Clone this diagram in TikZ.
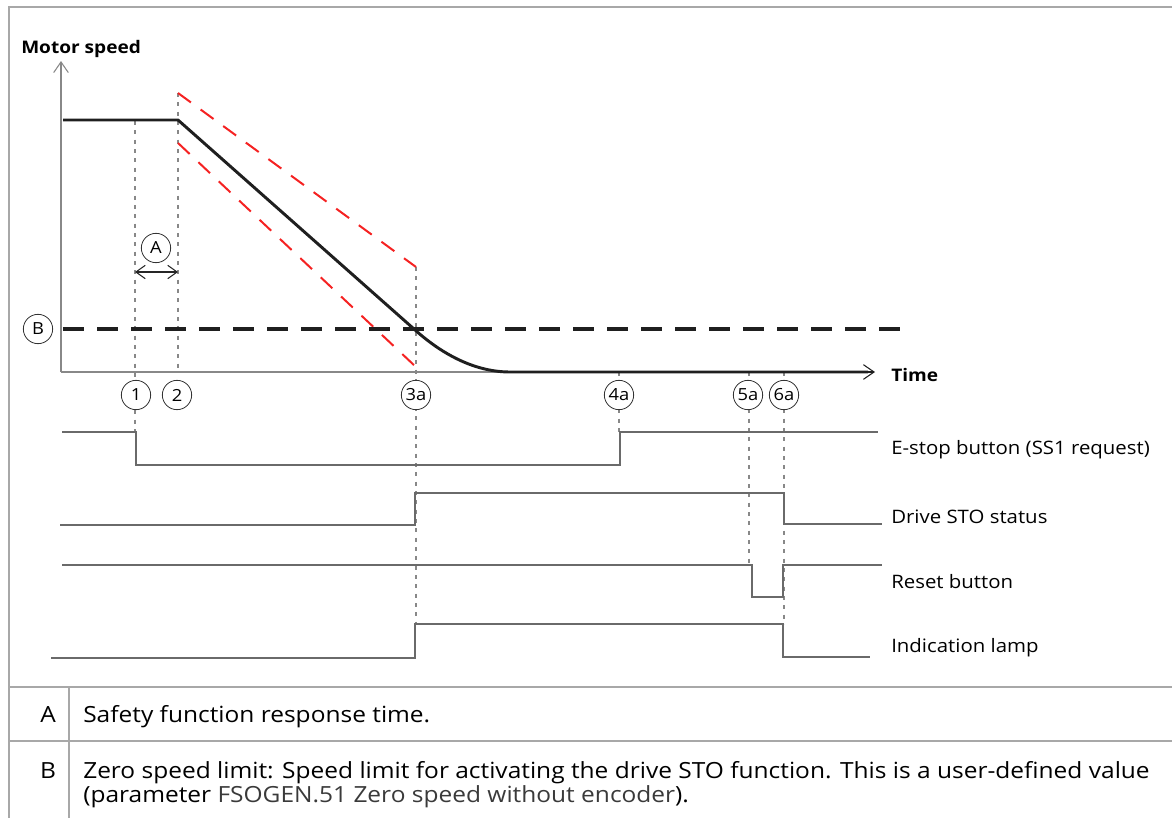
\documentclass[tikz,border=0pt]{standalone}
\usepackage{fontspec}
\setmainfont[FakeStretch=1.1]{Open Sans}
\usetikzlibrary{arrows.meta}
\definecolor{framegray}{HTML}{A8A8A8}
\definecolor{axisgray}{HTML}{888888}
\definecolor{siggray}{HTML}{6A6A6A}
\definecolor{limitred}{HTML}{F52222}
\definecolor{paramgray}{HTML}{3A3A3A}
\tikzset{
  framel/.style={draw=framegray, line width=1.5pt},
  axisl/.style={draw=axisgray, line width=1.1pt},
  guide/.style={draw=axisgray, line width=0.8pt, dash pattern=on 3pt off 4pt},
  sigl/.style={draw=siggray, line width=1.1pt},
  speedl/.style={draw=black!88, line width=2.2pt},
  zerol/.style={draw=black!88, line width=3pt, dash pattern=on 16pt off 9.5pt},
  envl/.style={draw=limitred, line width=1.5pt, dash pattern=on 12pt off 9pt},
  opentip/.style={-{Straight Barb[length=8pt,width=11pt,line width=0.8pt]}},
  marker/.style={circle, draw=black!80, line width=0.6pt, fill=white, inner sep=0pt,
    minimum size=22pt, font=\fontsize{12.5}{13}\selectfont},
  lbl/.style={anchor=base west, inner sep=0pt, font=\fontsize{13.9}{16}\selectfont},
  boldlbl/.style={anchor=base west, inner sep=0pt, font=\fontsize{13}{16}\selectfont\bfseries},
  cell/.style={anchor=base west, inner sep=0pt, font=\fontsize{16.7}{19}\selectfont},
  key/.style={anchor=base, inner sep=0pt, font=\fontsize{16.7}{19}\selectfont}
}
\begin{document}
\begin{tikzpicture}[x=0.75pt,y=-0.75pt]
\useasboundingbox (0,0) rectangle (1172,818);

% outer frame and table rules
\draw[framel] (9,818) -- (9,7) -- (1172,7);
\draw[framel] (9,687) -- (1172,687);
\draw[framel] (9,741) -- (1172,741);
\draw[framel] (69,687) -- (69,818);

% guide lines from the events down through the signals
\draw[guide] (135,121) -- (135,432);
\draw[guide] (178,93) -- (178,372);
\draw[guide] (416,267) -- (416,624);
\draw[guide] (619,372) -- (619,432);
\draw[guide] (749,372) -- (749,565);
\draw[guide] (784,372) -- (784,624);

% axes
\coordinate (origin) at (61,372);
\coordinate (ytop) at (61,61);
\coordinate (xend) at (875,372);
\draw[axisl, opentip] (origin) -- (ytop);
\draw[axisl] (origin) -- (510,372);

% speed limit envelope
\draw[envl] (178,93) -- (416,267);
\draw[envl] (178,143) -- (416,367);

% zero speed limit
\draw[zerol] (63,329) -- (900,329);

% motor speed
\draw[speedl, line join=round] (63,120) -- (178,120) -- (414,329)
  .. controls (436,349) and (470,372) .. (510,372) -- (868,372);
\draw[draw=black!88, line width=1.1pt, opentip] (860,372) -- (xend);

% response time
\draw[black!85, line width=0.8pt, {Straight Barb[length=7pt,width=10pt]}-{Straight Barb[length=7pt,width=10pt]}]
  (135,272) -- (178,272);
\node[marker] (mA) at (156,248) {A};
\node[marker] (mB) at (38,329) {B};

% event markers
\node[marker] (m1) at (136,395) {1};
\node[marker] (m2) at (177,395) {2};
\node[marker] (m3) at (416,395) {3a};
\node[marker] (m4) at (619,395) {4a};
\node[marker] (m5) at (748,395) {5a};
\node[marker] (m6) at (784,395) {6a};

% axis labels
\node[boldlbl] (ylab) at (21,53) {Motor speed};
\node[boldlbl] (xlab) at (891,381) {Time};

% signals
\draw[sigl] (62,432) -- (136,432) -- (136,465) -- (620,465) -- (620,432) -- (878,432);
\draw[sigl] (60,525) -- (415,525) -- (415,493) -- (784,493) -- (784,524) -- (882,524);
\draw[sigl] (62,565) -- (752,565) -- (752,597) -- (783,597) -- (783,565) -- (882,565);
\draw[sigl] (51,658) -- (415,658) -- (415,624) -- (783,624) -- (783,657) -- (870,657);

\node[lbl] (sEstop) at (891,454) {E-stop button (SS1 request)};
\node[lbl] (sSTO) at (891,523) {Drive STO status};
\node[lbl] (sReset) at (891,588) {Reset button};
\node[lbl] (sLamp) at (891,652) {Indication lamp};

% legend table
\node[key] (kA) at (48,722) {A};
\node[cell] (dA) at (83,722) {Safety function response time.};
\node[key] (kB) at (48,778) {B};
\node[cell] (dB1) at (83,778) {Zero speed limit: Speed limit for activating the drive STO function. This is a user-defined value};
\node[cell] (dB2) at (83,802) {(parameter {\color{paramgray}FSOGEN.51 Zero speed without encoder}).};
\end{tikzpicture}
\end{document}
